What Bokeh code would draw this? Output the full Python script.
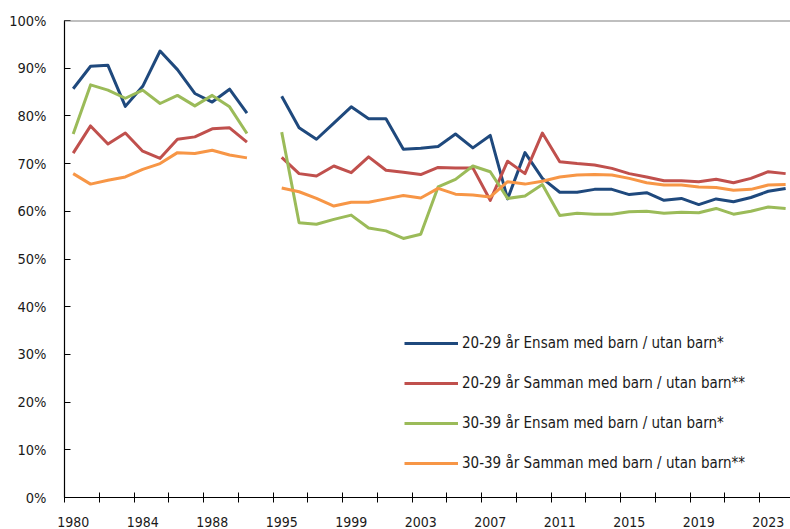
import numpy as np
from bokeh.plotting import figure
from bokeh.models import (ColumnDataSource, FixedTicker, Legend, LegendItem, Span, Range1d)
from bokeh.embed import file_html
from bokeh.resources import INLINE

# ---- data -------------------------------------------------------------
years = [str(y) for y in range(1980, 1991)] + [""] + [str(y) for y in range(1995, 2025)]
tick_labels = ["1980", "1984", "1988", "1995", "1999", "2003", "2007", "2011", "2015", "2019", "2023"]
y_ticks = [0, 10, 20, 30, 40, 50, 60, 70, 80, 90, 100]

series_names = [
    "20-29 år Ensam med barn / utan barn*",
    "20-29 år Samman med barn / utan barn**",
    "30-39 år Ensam med barn / utan barn*",
    "30-39 år Samman med barn / utan barn**",
]

ensam_20_29 = [85.7, 90.4, 90.6, 82.0, 86.2, 93.6, 89.7, 84.7, 82.9, 85.6, 80.6, None,
               84.1, 77.5, 75.1, 78.5, 81.9, 79.4, 79.4, 73.0, 73.2, 73.6, 76.2, 73.3, 75.9,
               62.6, 72.3, 66.9, 64.0, 64.0, 64.6, 64.6, 63.5, 63.9, 62.3, 62.7, 61.4, 62.6,
               62.0, 62.9, 64.2, 64.8]
samman_20_29 = [72.2, 77.9, 74.1, 76.4, 72.6, 71.1, 75.1, 75.6, 77.3, 77.5, 74.5, None,
                71.3, 67.9, 67.4, 69.5, 68.1, 71.4, 68.6, 68.2, 67.7, 69.2, 69.1, 69.1, 62.3,
                70.5, 67.9, 76.4, 70.4, 70.0, 69.7, 69.0, 67.9, 67.2, 66.4, 66.4, 66.2, 66.7,
                66.0, 66.9, 68.3, 67.9]
ensam_30_39 = [76.2, 86.5, 85.4, 83.7, 85.4, 82.6, 84.3, 82.1, 84.3, 81.9, 76.3, None,
               76.6, 57.6, 57.3, 58.3, 59.2, 56.5, 55.9, 54.3, 55.2, 65.1, 66.7, 69.5, 68.3,
               62.7, 63.2, 65.6, 59.1, 59.6, 59.4, 59.4, 59.9, 60.0, 59.6, 59.8, 59.7, 60.6,
               59.4, 60.0, 60.9, 60.6]
samman_30_39 = [67.9, 65.7, 66.5, 67.2, 68.8, 70.0, 72.3, 72.1, 72.8, 71.8, 71.2, None,
                64.9, 64.1, 62.7, 61.1, 61.9, 61.9, 62.6, 63.3, 62.8, 64.8, 63.6, 63.4, 63.0,
                66.2, 65.7, 66.3, 67.2, 67.6, 67.7, 67.6, 66.9, 66.0, 65.5, 65.5, 65.1, 65.0,
                64.4, 64.6, 65.5, 65.6]

colors = ["#1F497D", "#C0504D", "#9BBB59", "#F79646"]

# ---- figure -----------------------------------------------------------
FONT = "DejaVu Sans Condensed"
x = list(range(len(years)))

def arr(v):
    return np.array([np.nan if a is None else a for a in v], dtype=float)

src = ColumnDataSource(dict(
    x=x,
    s0=arr(ensam_20_29), s1=arr(samman_20_29), s2=arr(ensam_30_39), s3=arr(samman_30_39),
))

p = figure(width=790, height=529, output_backend="svg", toolbar_location=None,
           x_range=Range1d(-0.5, 41.28), y_range=Range1d(0, 100),
           min_border_left=64, min_border_right=0, min_border_top=20, min_border_bottom=31)
p.outline_line_color = None
p.grid.visible = False
p.background_fill_color = "white"
p.border_fill_color = "white"

renderers = []
for i, c in enumerate(colors):
    r = p.line("x", f"s{i}", source=src, line_color=c, line_width=3, line_join="round")
    renderers.append(r)

# top border of plot area
p.add_layout(Span(location=100, dimension="width", line_color="#808080", line_width=2))

# x axis: labels every 4 categories, crossing tick marks every 2 categories (between categories)
label_pos = [years.index(t) for t in tick_labels]
minor_pos = [i - 0.5 for i in range(0, len(years) + 1, 2)]
xa = p.xaxis[0]
xa.ticker = FixedTicker(ticks=label_pos, minor_ticks=minor_pos)
xa.major_label_overrides = {pos: years[pos] for pos in label_pos}
xa.major_tick_line_color = None
xa.major_tick_in = 0
xa.major_tick_out = 0
xa.minor_tick_in = 5
xa.minor_tick_out = 5
xa.minor_tick_line_color = "#000000"
xa.axis_line_color = "#000000"
xa.axis_line_width = 1.2
xa.major_label_standoff = 14
xa.major_label_text_font = FONT
xa.major_label_text_font_size = "14px"
xa.major_label_text_color = "#1a1a1a"

ya = p.yaxis[0]
ya.ticker = FixedTicker(ticks=y_ticks)
ya.major_label_overrides = {t: f"{t}%" for t in y_ticks}
ya.minor_tick_line_color = None
ya.major_tick_in = 6
ya.major_tick_out = 0
ya.major_tick_line_color = "#000000"
ya.axis_line_color = "#000000"
ya.axis_line_width = 1.2
ya.major_label_standoff = 18
ya.major_label_text_font = FONT
ya.major_label_text_font_size = "14.5px"
ya.major_label_text_color = "#1a1a1a"

legend = Legend(
    items=[LegendItem(label=n, renderers=[r]) for n, r in zip(series_names, renderers)],
    location=(340, 24),
    glyph_width=54, glyph_height=20, label_height=20, spacing=20,
    label_standoff=4, padding=0, margin=0,
    border_line_color=None, background_fill_alpha=0,
    label_text_font=FONT, label_text_font_size="15px", label_text_color="#1a1a1a",
)
p.add_layout(legend)

open("out.html", "w").write(file_html(p, INLINE))
